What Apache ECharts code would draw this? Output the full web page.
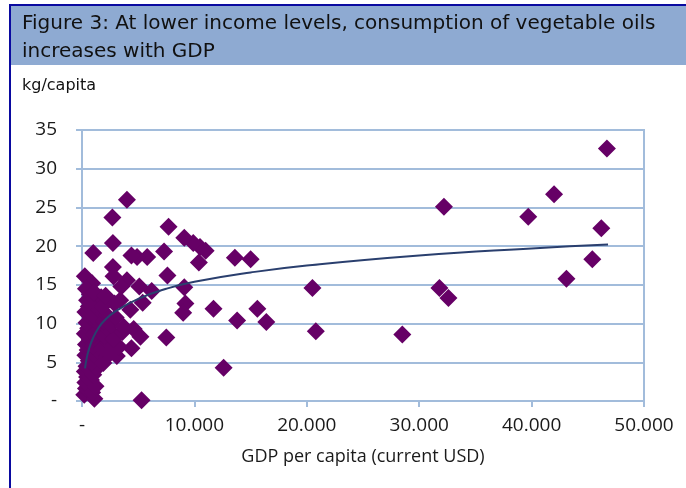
<!DOCTYPE html>
<html>
<head>
<meta charset="utf-8">
<script src="https://cdn.jsdelivr.net/npm/echarts@6/dist/echarts.min.js"></script>
<style>
  html, body { margin: 0; padding: 0; background: #ffffff; }
  #chart { width: 686px; height: 488px; }
</style>
</head>
<body>
<div id="chart"></div>
<script>
// GDP per capita (current USD) and vegetable oil consumption (kg/capita)
let gdpPerCapita = [
    46700, 42000, 39700, 46200, 45400, 43100, 32200, 31800, 32600, 28500,
    20500, 20800, 16400, 15600, 15000, 13600, 13800, 12600, 11700, 11000,
    10500, 10400, 9900, 9100, 9100, 9200, 9000, 7700, 7300, 7600,
    7500, 6200, 5800, 4900, 4400, 5100, 5400, 4300, 4600, 5200,
    4400, 5300, 4000, 2700, 2750, 2750, 2800, 4000, 3500, 3400,
    2900, 1000, 250, 900,
    200, 350, 300, 450, 250, 400, 600, 300, 500, 350,
    700, 250, 550, 400, 800, 300, 600, 450, 700, 350,
    1100, 900, 1200, 800, 1000, 1300, 900, 1200, 1500, 1000,
    1400, 1100, 1600, 1300, 1000, 1500, 1200, 1700, 1100,
    1900, 2200, 1800, 2300, 2000, 2400, 1900, 2200, 1800, 2100,
    3100, 3300, 2800, 3600, 2600, 3000, 3700, 2400
];
let oilKg = [
    32.6, 26.7, 23.8, 22.3, 18.3, 15.8, 25.1, 14.6, 13.3, 8.6,
    14.6, 9.0, 10.2, 11.9, 18.3, 18.5, 10.4, 4.3, 11.9, 19.4,
    19.9, 17.9, 20.4, 21.1, 14.7, 12.6, 11.4, 22.5, 19.3, 16.2,
    8.2, 14.2, 18.6, 18.6, 18.8, 14.8, 12.7, 11.8, 9.3, 8.3,
    6.8, 0.1, 26.0, 23.7, 20.4, 17.3, 16.1, 15.6, 14.8, 13.0,
    12.6, 19.1, 16.1, 15.2,
    0.8, 1.6, 2.4, 3.1, 3.8, 4.5, 5.2, 5.9, 6.6, 7.3,
    7.9, 8.7, 9.4, 10.1, 10.8, 11.5, 12.2, 13.0, 13.8, 14.5,
    0.3, 1.1, 1.9, 2.7, 3.4, 4.2, 5.0, 5.8, 6.4, 7.1,
    7.8, 8.6, 9.3, 10.2, 11.0, 11.8, 12.6, 13.4, 14.0,
    4.9, 5.7, 6.8, 7.6, 8.4, 9.2, 10.3, 11.1, 12.2, 13.6,
    5.8, 7.0, 8.0, 8.9, 9.8, 10.8, 9.6, 6.2
];

// Logarithmic trend line
let trendX = [270, 400, 600, 1000, 1500, 2000, 3000, 5000, 7500, 10000, 15000, 20000, 30000, 40000, 46800];
let trendY = [4.2, 5.4, 6.6, 8.2, 9.5, 10.4, 11.6, 13.2, 14.5, 15.4, 16.6, 17.5, 18.8, 19.7, 20.2];

let titleLines = ['Figure 3: At lower income levels, consumption of vegetable oils', 'increases with GDP'];
let unitLabel = 'kg/capita';
let xAxisName = 'GDP per capita (current USD)';

let gridColor = '#a2bcdb';
let axisFont = '"Open Sans", "Liberation Sans", sans-serif';

function dashZero(value, sep) {
    if (value === 0) {
        return '-';
    }
    return String(value).replace(/\B(?=(\d{3})+(?!\d))/g, sep);
}

let chart = echarts.init(document.getElementById('chart'));

let points = gdpPerCapita.map(function (g, i) {
    return [g, oilKg[i]];
});
let trend = trendX.map(function (g, i) {
    return [g, trendY[i]];
});

let options = {
    animation: false,
    backgroundColor: '#ffffff',
    graphic: [
        // title band and frame
        { type: 'rect', shape: { x: 11, y: 6, width: 675, height: 59 }, style: { fill: '#8eaad2' }, z: 0 },
        { type: 'rect', shape: { x: 9, y: 4, width: 677, height: 2 }, style: { fill: '#0a0aa0' }, z: 1 },
        { type: 'rect', shape: { x: 9, y: 4, width: 2, height: 484 }, style: { fill: '#0a0aa0' }, z: 1 }
    ],
    title: [
        {
            text: titleLines.join('\n'),
            left: 17,
            top: 5,
            textStyle: {
                fontFamily: '"DejaVu Sans", Verdana, sans-serif',
                fontSize: 20,
                fontWeight: 'normal',
                color: '#111111',
                lineHeight: 28
            }
        },
        {
            text: unitLabel,
            left: 17,
            top: 73,
            textStyle: {
                fontFamily: '"DejaVu Sans", Verdana, sans-serif',
                fontSize: 16,
                fontWeight: 'normal',
                color: '#111111'
            }
        }
    ],
    grid: {
        left: 82,
        right: 42,
        top: 130,
        bottom: 87,
        show: true,
        borderColor: gridColor,
        borderWidth: 2,
        containLabel: false
    },
    xAxis: {
        type: 'value',
        min: 0,
        max: 50000,
        interval: 10000,
        name: xAxisName,
        nameLocation: 'middle',
        nameGap: 47,
        nameTextStyle: { fontFamily: axisFont, fontSize: 18, color: '#1a1a1a' },
        axisLine: { show: true, lineStyle: { color: gridColor, width: 2 } },
        axisTick: { show: true, length: 6, lineStyle: { color: gridColor, width: 2 } },
        splitLine: { show: false },
        axisLabel: {
            margin: 15,
            fontFamily: axisFont,
            fontSize: 19,
            color: '#1a1a1a',
            formatter: function (v) { return dashZero(v, '.'); }
        }
    },
    yAxis: {
        type: 'value',
        min: 0,
        max: 35,
        interval: 5,
        axisLine: { show: true, lineStyle: { color: gridColor, width: 2 } },
        axisTick: { show: true, length: 6, lineStyle: { color: gridColor, width: 2 } },
        splitLine: { show: true, lineStyle: { color: gridColor, width: 2 } },
        axisLabel: {
            margin: 25,
            fontFamily: axisFont,
            fontSize: 19,
            color: '#1a1a1a',
            formatter: function (v) { return dashZero(v, '.'); }
        }
    },
    series: [
        {
            name: 'countries',
            type: 'scatter',
            symbol: 'diamond',
            symbolSize: 18,
            itemStyle: { color: '#660066', opacity: 1 },
            data: points,
            z: 3
        },
        {
            name: 'trend',
            type: 'line',
            smooth: true,
            showSymbol: false,
            symbol: 'none',
            lineStyle: { color: '#2a3f6e', width: 2 },
            data: trend,
            z: 4
        }
    ]
};

chart.setOption(options);
</script>
</body>
</html>
